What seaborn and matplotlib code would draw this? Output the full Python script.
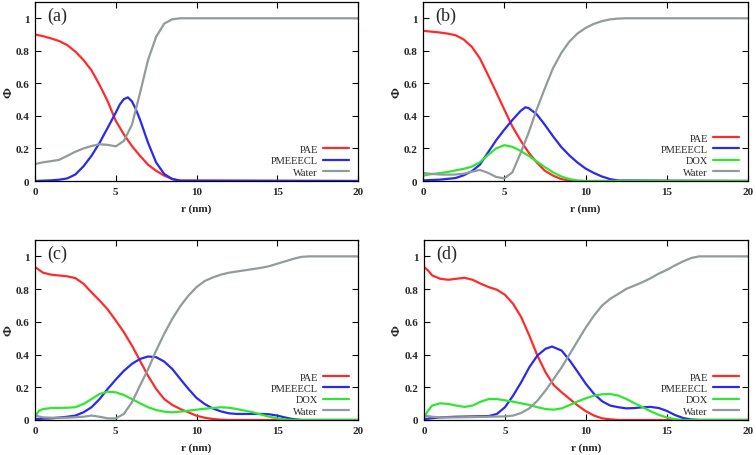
import matplotlib
matplotlib.use("Agg")
import matplotlib.pyplot as plt
import seaborn as sns
import pandas as pd

# ---------------- data ----------------
series_names = ["PAE", "PMEEECL", "DOX", "Water"]
panel_labels = ["(a)", "(b)", "(c)", "(d)"]
x_ticks = [0, 5, 10, 15, 20]
x_tick_labels = ["0", "5", "10", "15", "20"]
y_ticks = [0, 0.2, 0.4, 0.6, 0.8, 1.0]
y_tick_labels = ["0", "0.2", "0.4", "0.6", "0.8", "1"]

# panel (a)
a_pae_r = [0, 0.5, 1, 1.5, 2, 2.5, 3, 3.5, 4, 4.5, 5, 5.5, 6, 6.5, 7, 7.5, 8, 8.5, 9, 20]
a_pae = [0.90, 0.89, 0.876, 0.86, 0.835, 0.795, 0.744, 0.68, 0.59, 0.49, 0.37, 0.287, 0.215, 0.155, 0.10, 0.063, 0.033, 0.012, 0.002, 0]
a_pme_r = [0, 1, 1.5, 2, 2.5, 3, 3.5, 4, 4.5, 5, 5.25, 5.5, 5.75, 6, 6.25, 6.5, 7, 7.5, 8, 8.5, 9, 20]
a_pme = [0, 0.004, 0.008, 0.016, 0.04, 0.09, 0.155, 0.235, 0.327, 0.42, 0.47, 0.503, 0.514, 0.49, 0.44, 0.378, 0.235, 0.114, 0.043, 0.012, 0.002, 0]
a_wat_r = [0, 0.5, 1, 1.5, 2, 2.5, 3, 3.5, 4, 4.5, 5, 5.5, 6, 6.5, 7, 7.5, 8, 8.5, 9, 20]
a_wat = [0.104, 0.115, 0.122, 0.13, 0.155, 0.18, 0.2, 0.215, 0.226, 0.222, 0.213, 0.246, 0.345, 0.54, 0.744, 0.886, 0.967, 0.994, 1.0, 1.0]

# panel (b)
b_pae_r = [0, 0.5, 1, 1.5, 2, 2.5, 3, 3.5, 4, 4.5, 5, 5.5, 6, 6.5, 7, 7.5, 8, 8.5, 9, 9.5, 20]
b_pae = [0.923, 0.918, 0.913, 0.906, 0.896, 0.87, 0.825, 0.754, 0.652, 0.547, 0.44, 0.335, 0.25, 0.175, 0.114, 0.063, 0.033, 0.012, 0.003, 0, 0]
b_pme_r = [0, 1, 2, 2.5, 3, 3.5, 4, 4.5, 5, 5.5, 6, 6.3, 6.5, 7, 7.5, 8, 8.5, 9, 9.5, 10, 10.5, 11, 11.5, 12, 20]
b_pme = [0.004, 0.008, 0.018, 0.035, 0.06, 0.10, 0.175, 0.25, 0.315, 0.375, 0.43, 0.453, 0.448, 0.41, 0.345, 0.275, 0.21, 0.158, 0.114, 0.077, 0.05, 0.028, 0.012, 0.003, 0]
b_dox_r = [0, 0.5, 1, 1.5, 2, 2.5, 3, 3.5, 4, 4.5, 5, 5.5, 6, 6.5, 7, 7.5, 8, 8.5, 9, 9.5, 10, 20]
b_dox = [0.033, 0.042, 0.048, 0.055, 0.065, 0.075, 0.088, 0.115, 0.16, 0.2, 0.22, 0.21, 0.185, 0.155, 0.12, 0.085, 0.053, 0.028, 0.012, 0.003, 0, 0]
b_wat_r = [0, 0.5, 1, 1.5, 2, 2.5, 3, 3.5, 4, 4.5, 5, 5.5, 6, 6.5, 7, 7.5, 8, 8.5, 9, 9.5, 10, 10.5, 11, 11.5, 12, 12.5, 20]
b_wat = [0.049, 0.044, 0.04, 0.039, 0.04, 0.045, 0.057, 0.068, 0.05, 0.025, 0.016, 0.053, 0.17, 0.297, 0.44, 0.57, 0.693, 0.785, 0.856, 0.906, 0.94, 0.965, 0.982, 0.993, 0.998, 1.0, 1.0]

# panel (c)
c_pae_r = [0, 0.5, 1, 1.5, 2, 2.5, 3, 3.5, 4, 4.5, 5, 5.5, 6, 6.5, 7, 7.5, 8, 8.5, 9, 9.5, 10, 10.5, 11, 11.5, 12, 20]
c_pae = [0.935, 0.90, 0.888, 0.883, 0.878, 0.867, 0.833, 0.78, 0.73, 0.676, 0.608, 0.537, 0.455, 0.363, 0.27, 0.19, 0.128, 0.092, 0.067, 0.047, 0.026, 0.014, 0.006, 0.002, 0, 0]
c_pme_r = [0, 1, 2, 2.5, 3, 3.5, 4, 4.5, 5, 5.5, 6, 6.5, 7, 7.5, 8, 8.5, 9, 9.5, 10, 10.5, 11, 11.5, 12, 12.5, 13, 13.5, 14, 14.5, 15, 15.5, 16, 16.5, 20]
c_pme = [0.006, 0.01, 0.02, 0.027, 0.047, 0.078, 0.128, 0.19, 0.247, 0.30, 0.343, 0.373, 0.388, 0.384, 0.357, 0.312, 0.25, 0.19, 0.135, 0.098, 0.071, 0.053, 0.041, 0.037, 0.037, 0.037, 0.037, 0.035, 0.027, 0.015, 0.005, 0, 0]
c_dox_r = [0, 0.25, 0.5, 1, 1.5, 2, 2.5, 3, 3.5, 4, 4.5, 5, 5.5, 6, 6.5, 7, 7.5, 8, 8.5, 9, 9.5, 10, 10.5, 11, 11.5, 12, 12.5, 13, 13.5, 14, 14.5, 15, 15.5, 16, 20]
c_dox = [0.02, 0.057, 0.067, 0.073, 0.074, 0.075, 0.078, 0.098, 0.128, 0.159, 0.173, 0.169, 0.153, 0.128, 0.102, 0.078, 0.061, 0.051, 0.047, 0.051, 0.057, 0.063, 0.069, 0.073, 0.078, 0.075, 0.067, 0.057, 0.047, 0.033, 0.02, 0.01, 0.003, 0, 0]
c_wat_r = [0, 0.5, 1, 2, 3, 3.5, 4, 4.5, 5, 5.5, 6, 6.5, 7, 7.5, 8, 8.5, 9, 9.5, 10, 10.5, 11, 11.5, 12, 13, 14, 14.5, 15, 15.5, 16, 16.5, 17, 20]
c_wat = [0.027, 0.016, 0.014, 0.014, 0.02, 0.027, 0.02, 0.01, 0.01, 0.037, 0.108, 0.21, 0.31, 0.424, 0.527, 0.618, 0.696, 0.76, 0.812, 0.849, 0.871, 0.888, 0.9, 0.915, 0.93, 0.94, 0.955, 0.97, 0.985, 0.997, 1.0, 1.0]

# panel (d)
d_pae_r = [0, 0.25, 0.5, 1, 1.5, 2, 2.5, 3, 3.5, 4, 4.5, 5, 5.5, 6, 6.5, 7, 7.5, 8, 8.5, 9, 9.5, 10, 10.5, 11, 11.5, 12, 20]
d_pae = [0.935, 0.914, 0.884, 0.863, 0.857, 0.863, 0.869, 0.857, 0.833, 0.812, 0.796, 0.765, 0.71, 0.629, 0.516, 0.394, 0.292, 0.214, 0.169, 0.128, 0.088, 0.053, 0.027, 0.01, 0.004, 0, 0]
d_pme_r = [0, 1, 2, 3, 4, 4.5, 5, 5.5, 6, 6.5, 7, 7.5, 7.9, 8.5, 9, 9.5, 10, 10.5, 11, 11.5, 12, 12.5, 13, 13.5, 14, 14.5, 15, 15.5, 16, 16.5, 17, 20]
d_pme = [0.006, 0.016, 0.02, 0.022, 0.024, 0.037, 0.078, 0.149, 0.231, 0.322, 0.394, 0.435, 0.449, 0.424, 0.363, 0.292, 0.22, 0.159, 0.114, 0.088, 0.078, 0.071, 0.073, 0.078, 0.08, 0.073, 0.055, 0.03, 0.012, 0.003, 0, 0]
d_dox_r = [0, 0.25, 0.5, 1, 1.5, 2, 2.5, 3, 3.5, 4, 4.5, 5, 5.5, 6, 6.5, 7, 7.5, 8, 8.5, 9, 9.5, 10, 10.5, 11, 11.5, 12, 12.5, 13, 13.5, 14, 14.5, 15, 15.5, 16, 20]
d_dox = [0.016, 0.057, 0.088, 0.102, 0.098, 0.088, 0.08, 0.088, 0.112, 0.128, 0.128, 0.12, 0.112, 0.102, 0.092, 0.078, 0.067, 0.063, 0.071, 0.092, 0.114, 0.133, 0.149, 0.157, 0.159, 0.149, 0.128, 0.102, 0.078, 0.053, 0.031, 0.015, 0.005, 0, 0]
d_wat_r = [0, 0.5, 1, 2, 3, 4, 5, 5.5, 6, 6.5, 7, 7.5, 8, 8.5, 9, 9.5, 10, 10.5, 11, 11.5, 12, 12.5, 13, 13.5, 14, 14.5, 15, 15.5, 16, 16.5, 17, 20]
d_wat = [0.027, 0.02, 0.016, 0.016, 0.018, 0.02, 0.022, 0.027, 0.043, 0.071, 0.118, 0.18, 0.25, 0.322, 0.404, 0.486, 0.567, 0.639, 0.7, 0.741, 0.771, 0.802, 0.822, 0.843, 0.867, 0.895, 0.918, 0.945, 0.97, 0.99, 1.0, 1.0]

colors = {"PAE": "#ff2b2b", "PMEEECL": "#2a2aee", "DOX": "#2ee82e", "Water": "#929b9b"}

panels = [
    [("PAE", a_pae_r, a_pae), ("PMEEECL", a_pme_r, a_pme), ("Water", a_wat_r, a_wat)],
    [("PAE", b_pae_r, b_pae), ("PMEEECL", b_pme_r, b_pme), ("DOX", b_dox_r, b_dox), ("Water", b_wat_r, b_wat)],
    [("PAE", c_pae_r, c_pae), ("PMEEECL", c_pme_r, c_pme), ("DOX", c_dox_r, c_dox), ("Water", c_wat_r, c_wat)],
    [("PAE", d_pae_r, d_pae), ("PMEEECL", d_pme_r, d_pme), ("DOX", d_dox_r, d_dox), ("Water", d_wat_r, d_wat)],
]

# ---------------- style ----------------
sns.set_style("ticks")
plt.rcParams["font.family"] = ["Liberation Serif", "DejaVu Serif"]

fig = plt.figure(figsize=(7.56, 4.56), dpi=100)
W, H = 756.0, 456.0
boxes = [
    (35, 3, 358, 182),
    (423, 3, 748, 182),
    (35, 241, 358, 421),
    (424, 241, 748, 421),
]

for i, (series, box) in enumerate(zip(panels, boxes)):
    x0, y0, x1, y1 = box
    aw, ah = x1 - x0, y1 - y0
    ax = fig.add_axes([x0 / W, 1 - y1 / H, aw / W, ah / H])
    for name, r, v in series:
        df = pd.DataFrame({"r": r, "phi": v})
        sns.lineplot(data=df, x="r", y="phi", ax=ax, color=colors[name],
                     linewidth=1.6, label=name, sort=False)
    ax.set_xlim(0, 20)
    ax.set_ylim(0, 1.1)
    ax.set_xticks(x_ticks)
    ax.set_xticklabels(x_tick_labels, fontweight="bold")
    ax.set_yticks(y_ticks)
    ax.set_yticklabels(y_tick_labels, fontweight="bold")
    ax.tick_params(direction="in", length=4, width=0.8, top=True, right=True,
                   labelsize=8, pad=4, color="black")
    for s in ax.spines.values():
        s.set_color("black")
        s.set_linewidth(0.9)
    ax.set_xlabel("r (nm)", fontsize=8, fontweight="bold", labelpad=6)
    ax.set_ylabel("Φ", fontsize=9.5, fontweight="bold")
    ax.yaxis.set_label_coords(-21.0 / aw, 0.5)
    ax.text(12.0 / aw, 0.925, panel_labels[i], transform=ax.transAxes,
            fontsize=13, ha="left", va="center")
    leg = ax.legend(loc="lower right", bbox_to_anchor=(1 - 5.0 / aw, 0.0),
                    markerfirst=False, frameon=False,
                    fontsize=7.5, handlelength=2.5, handletextpad=0.45,
                    labelspacing=0.2, borderaxespad=0.0)
    for t in leg.get_texts():
        t.set_ha("right")

fig.savefig("out.png", dpi=100)
